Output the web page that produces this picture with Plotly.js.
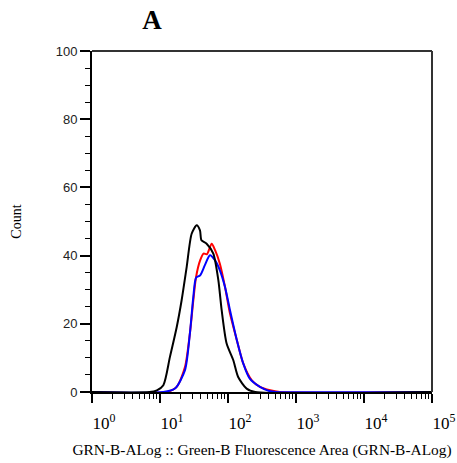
<!DOCTYPE html>
<html>
<head>
<meta charset="utf-8">
<script src="https://cdn.plot.ly/plotly-3.0.1.min.js"></script>
<style>html,body{margin:0;padding:0;background:#fff;}#chart{width:457px;height:463px;}</style>
</head>
<body>
<div id="chart"></div>
<script>
// Fluorescence (GRN-B-A) values and counts
const blackX = [1, 7, 9, 11.2, 14, 17.6, 20.8, 24.7, 29.2, 34.6, 38.7, 40.7, 48.5, 60.8, 72.1, 80.7, 95.5, 119.7, 141, 188, 251, 100000];
const blackY = [0, 0, 0.5, 2, 10.3, 19, 26.9, 36.7, 46.4, 48.9, 47.4, 44.5, 43.5, 40.6, 32.8, 24, 14.2, 9.3, 4.4, 1, 0, 0];

const redX = [1, 12.6, 17.6, 23.3, 27.5, 30.9, 33.9, 38.9, 43.7, 49, 57.5, 64.6, 75.9, 90.4, 107, 135, 168, 224, 295, 417, 575, 100000];
const redY = [0, 0, 1.5, 7.3, 17.1, 26.9, 33.7, 38.6, 40.6, 40.4, 43.5, 41.6, 37.6, 30.8, 23, 15.2, 8.3, 3.4, 1.5, 0.5, 0, 0];

const blueX = [1, 11.2, 16.6, 23.3, 27.5, 30.9, 33.9, 38.9, 45.7, 54.3, 64.6, 75.9, 90.4, 107, 135, 168, 209, 295, 417, 500, 100000];
const blueY = [0, 0, 1, 6.4, 17.1, 27.9, 33.5, 34.2, 37.2, 40.1, 38.6, 35.7, 30.8, 24, 15.2, 8.3, 3.9, 1.5, 0.2, 0, 0];

const xTickVals = [1, 10, 100, 1000, 10000, 100000];
const xTickText = ['10<sup>0</sup>', '10<sup>1</sup>', '10<sup>2</sup>', '10<sup>3</sup>', '10<sup>4</sup>', '10<sup>5</sup>'];
const yTickVals = [0, 20, 40, 60, 80, 100];

const minorX = [];
for (let d = 0; d < 5; d++) for (let m = 2; m <= 9; m++) minorX.push(m * Math.pow(10, d));

const serif = 'Liberation Serif, Times New Roman, serif';
const mk = (x, y, c) => ({x: x, y: y, type: 'scatter', mode: 'lines',
  line: {color: c, width: 2, shape: 'spline', smoothing: 0.7}, hoverinfo: 'skip', showlegend: false});

const data = [mk(redX, redY, '#ff0000'), mk(blueX, blueY, '#0000ff'), mk(blackX, blackY, '#000000')];

const layout = {
  width: 457, height: 463,
  margin: {l: 92, r: 25, t: 51, b: 71, pad: 0},
  paper_bgcolor: '#fff', plot_bgcolor: '#fff',
  showlegend: false,
  title: {text: '<b>A</b>', x: 152/457, xanchor: 'center', xref: 'container',
          y: 1 - 20/463, yanchor: 'middle', yref: 'container',
          font: {family: serif, size: 27, color: '#000'}},
  xaxis: {
    type: 'log', range: [0, 5],
    tickmode: 'array', tickvals: xTickVals, ticktext: xTickText,
    ticks: 'outside', ticklen: 9, tickwidth: 2, tickcolor: '#000',
    ticklabelshift: 12, ticklabelstandoff: 6,
    minor: {tickmode: 'array', tickvals: minorX, ticks: 'outside', ticklen: 5, tickwidth: 1, tickcolor: '#000'},
    showline: true, linecolor: '#000', linewidth: 2,
    showgrid: false, zeroline: false,
    tickfont: {family: serif, size: 17, color: '#000'},
    title: {text: 'GRN-B-ALog :: Green-B Fluorescence Area (GRN-B-ALog)',
            font: {family: serif, size: 15.4, color: '#000'}, standoff: 12}
  },
  yaxis: {
    range: [0, 100],
    tickmode: 'array', tickvals: yTickVals,
    ticks: 'outside', ticklen: 10, tickwidth: 2, tickcolor: '#000',
    minor: {dtick: 5, tick0: 0, ticks: 'outside', ticklen: 5, tickwidth: 1, tickcolor: '#000'},
    showline: true, linecolor: '#000', linewidth: 2,
    showgrid: false, zeroline: false,
    tickfont: {family: 'Liberation Sans, Arial, sans-serif', size: 13, color: '#222'},
    title: {text: 'Count', font: {family: serif, size: 14, color: '#000'}, standoff: 31}
  },
  shapes: [
    {type: 'line', xref: 'paper', yref: 'paper', x0: 0, x1: 1, y0: 1, y1: 1, line: {color: '#333', width: 2}},
    {type: 'line', xref: 'paper', yref: 'paper', x0: 1, x1: 1, y0: 0, y1: 1, line: {color: '#333', width: 2}}
  ]
};

Plotly.newPlot('chart', data, layout, {staticPlot: true, displayModeBar: false});
</script>
</body>
</html>
